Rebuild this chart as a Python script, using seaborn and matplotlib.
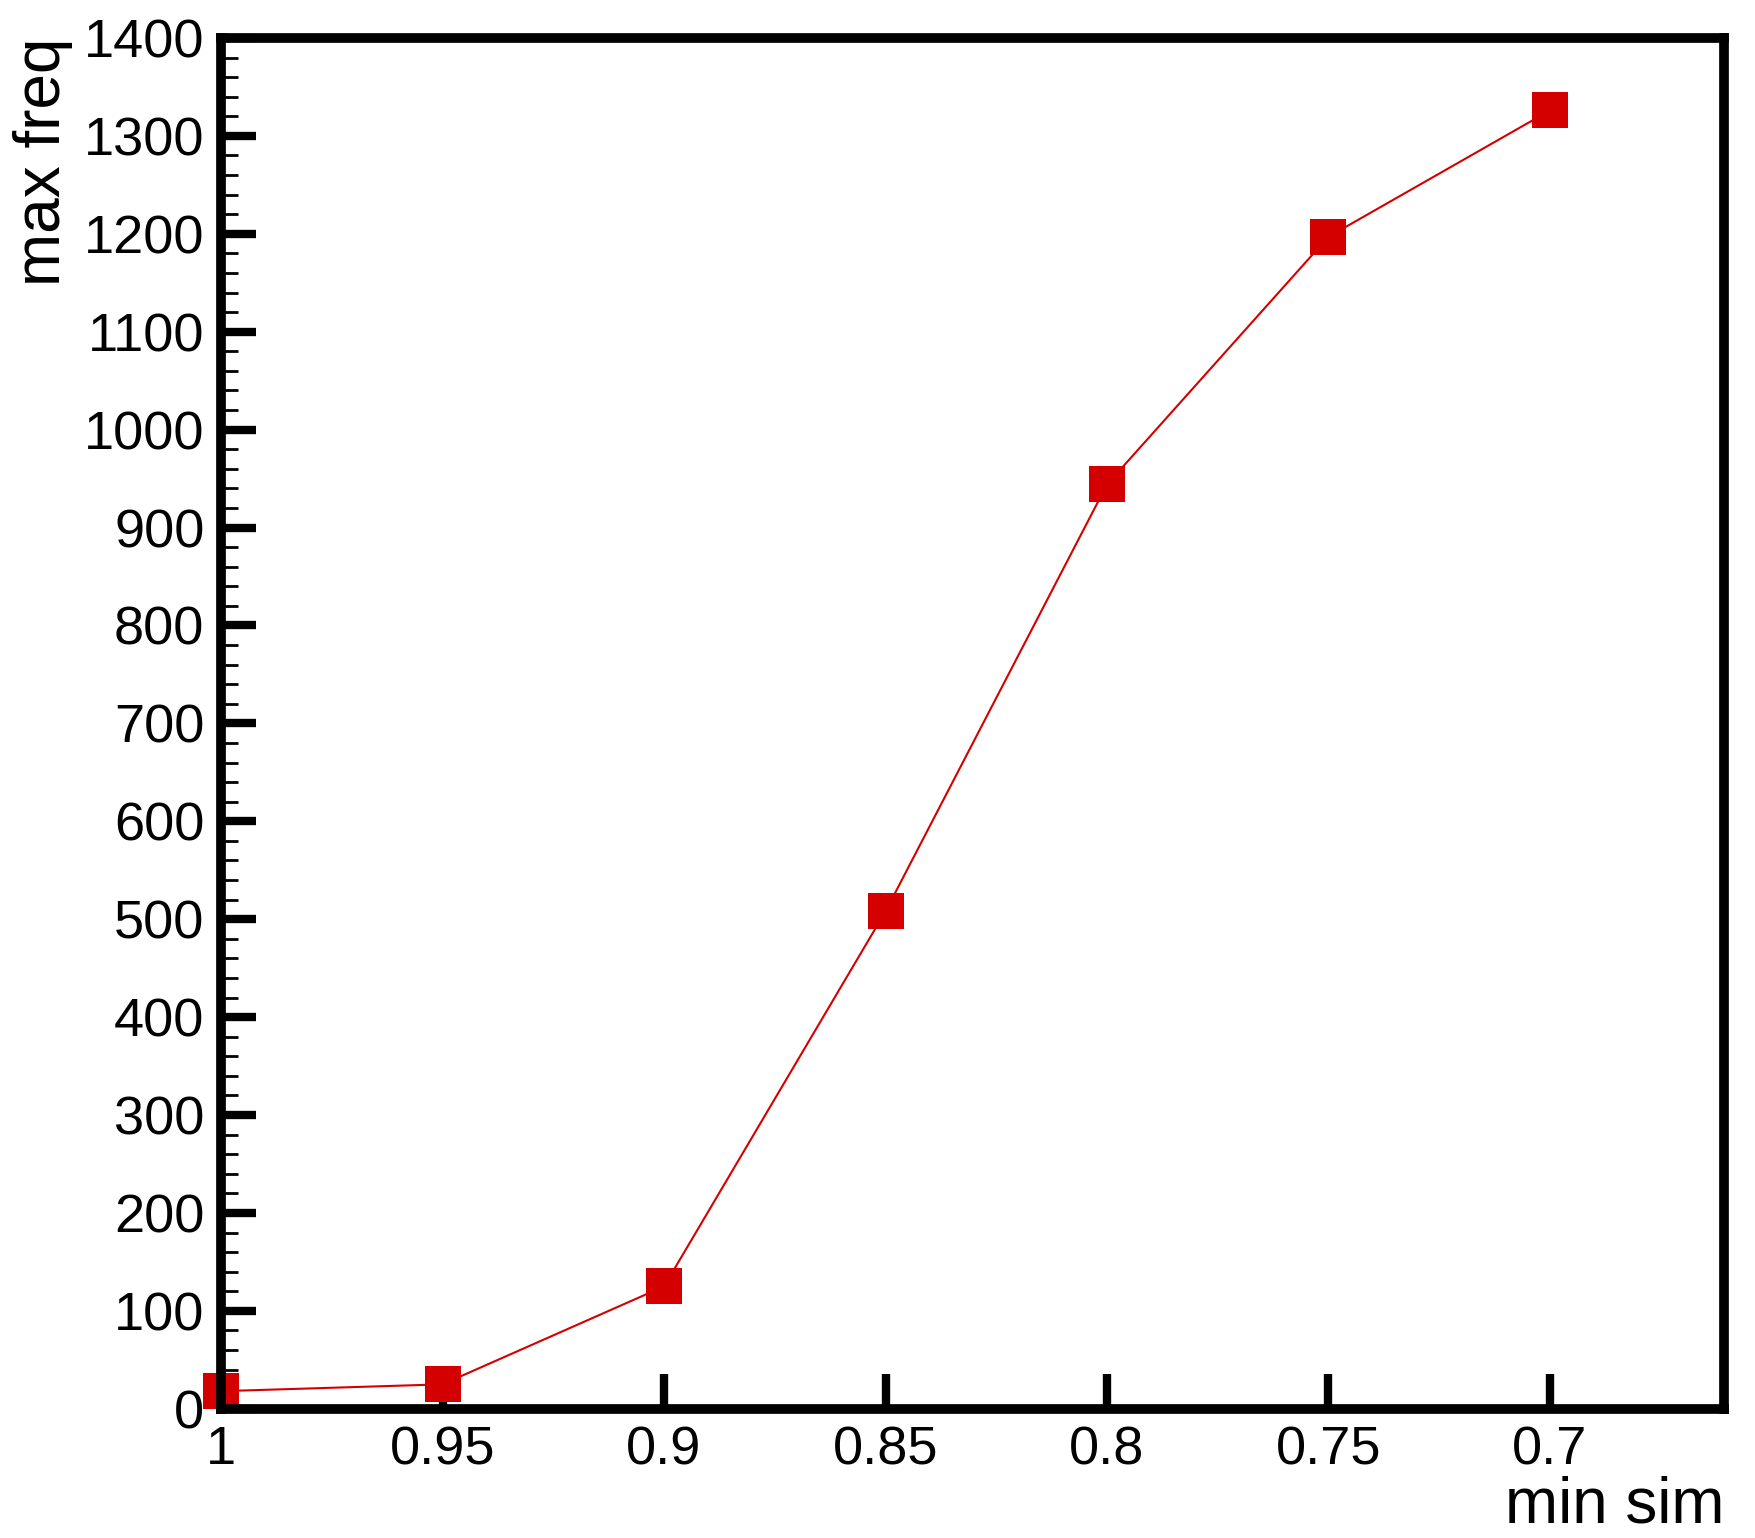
"""
max freq vs min sim, square markers.
"""

import pandas as pd
import matplotlib
matplotlib.use("Agg")
import matplotlib.pyplot as plt
from matplotlib.ticker import MultipleLocator
import seaborn as sns

min_sim = [1.0, 0.95, 0.9, 0.85, 0.8, 0.75, 0.7]
max_freq = [18, 25, 125, 508, 944, 1197, 1326]
x_ticks = [1.0, 0.95, 0.9, 0.85, 0.8, 0.75, 0.7]
x_tick_labels = ["1", "0.95", "0.9", "0.85", "0.8", "0.75", "0.7"]


def main():
    df = pd.DataFrame({"min sim": min_sim, "max freq": max_freq})

    sns.set_style("white")
    plt.rcParams["font.family"] = ["Liberation Sans", "DejaVu Sans"]
    plt.rcParams["text.color"] = "black"
    plt.rcParams["axes.labelcolor"] = "black"
    plt.rcParams["xtick.color"] = "black"
    plt.rcParams["ytick.color"] = "black"

    fig = plt.figure(figsize=(17.56, 15.38), dpi=100)
    ax = fig.add_axes([0.1259, 0.0840, 0.9818 - 0.1259, 0.9753 - 0.0840])

    sns.lineplot(data=df, x="min sim", y="max freq", ax=ax, color="#d40000",
                 linewidth=1.5, marker="s", markersize=26, markeredgewidth=0,
                 clip_on=False, zorder=2)

    ax.set_xlim(1.0, 0.6607)
    ax.set_ylim(0, 1400)
    ax.set_xticks(x_ticks)
    ax.set_xticklabels(x_tick_labels)
    ax.yaxis.set_major_locator(MultipleLocator(100))
    ax.yaxis.set_minor_locator(MultipleLocator(20))

    for s in ax.spines.values():
        s.set_linewidth(7)
        s.set_color("black")
        s.set_capstyle("projecting")

    ax.tick_params(axis="both", which="major", direction="in", length=25,
                   width=6, colors="black", labelsize=39, pad=12,
                   bottom=True, left=True, top=False, right=False)
    ax.tick_params(axis="y", which="minor", direction="in", length=12,
                   width=2, color="black", left=True, right=False)
    ax.tick_params(axis="x", which="minor", bottom=False, top=False)

    ax.set_xlabel("min sim", fontsize=46, loc="right", labelpad=0, color="black")
    ax.set_ylabel("max freq", fontsize=46, loc="top", labelpad=8, color="black")

    fig.savefig("out.png", dpi=100)


if __name__ == "__main__":
    main()
